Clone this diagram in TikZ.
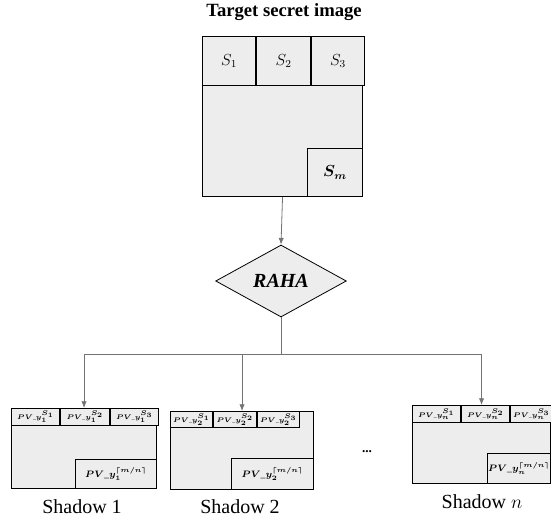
\documentclass[tikz,border=0pt]{standalone}
\usepackage{fontspec}
\setmainfont{Liberation Serif}
\usepackage{bm}
\usepackage{amsmath}
\usetikzlibrary{arrows.meta, positioning, shapes.geometric}

\begin{document}
\begin{tikzpicture}[x=0.75pt, y=-0.75pt,
    frame/.style = {draw, line width=0.8pt, fill=black!7, inner sep=0pt, anchor=north west},
    cell/.style = {draw, line width=0.8pt, fill=black!7, inner sep=0pt, anchor=north west},
    pv/.style = {cell, font=\fontsize{4.4}{5}\selectfont},
    pvlast/.style = {cell, anchor=south east, font=\fontsize{7.5}{9}\selectfont},
    label/.style = {font=\fontsize{15}{18}\selectfont},
    link/.style = {draw=black!55, line width=0.6pt},
    tip/.style = {link, -{Latex[length=5pt, width=4pt]}}]
    \useasboundingbox (0,0) rectangle (551,520);

    % target secret image
    \node[font=\fontsize{14}{17}\selectfont\bfseries] (title) at (284,12) {Target secret image};
    \node[frame, minimum width=120pt, minimum height=120pt] (target) at (202,36) {};
    \node[cell, font=\large, minimum width=40pt, minimum height=36.75pt] (s1) at (target.north west) {$S_1$};
    \node[cell, font=\large, minimum width=40pt, minimum height=36.75pt, right=0pt of s1] (s2) {$S_2$};
    \node[cell, font=\large, minimum width=40pt, minimum height=36.75pt, right=0pt of s2] (s3) {$S_3$};
    \node[cell, font=\large, anchor=south east, minimum width=41.25pt, minimum height=36pt] (sm) at (target.south east) {$\bm{S_{m}}$};

    % sharing step
    \node[diamond, draw, line width=0.6pt, fill=black!7, inner sep=0pt,
          minimum width=98pt, minimum height=54pt, font=\fontsize{15}{18}\selectfont] (raha) at (281,281) {\textbf{\textit{RAHA}}};
    \coordinate (split) at (281,354);

    % shadow 1
    \node[frame, minimum width=108.75pt, minimum height=60pt] (sh1) at (11,408) {};
    \node[pv, minimum width=36.25pt, minimum height=12.75pt] (a1) at (sh1.north west) {$\bm{PV\_y_1^{S_1}}$};
    \node[pv, minimum width=36.25pt, minimum height=12.75pt, right=0pt of a1] (a2) {$\bm{PV\_y_1^{S_2}}$};
    \node[pv, minimum width=36.25pt, minimum height=12.75pt, right=0pt of a2] (a3) {$\bm{PV\_y_1^{S_3}}$};
    \node[pvlast, minimum width=60.75pt, minimum height=21.75pt] (am) at (sh1.south east)
        {$\bm{PV\_y_1^{\lceil m/n\rceil}}$};
    \node[label] (lab1) at (82,507) {Shadow 1};

    % shadow 2
    \node[frame, minimum width=107.25pt, minimum height=58.5pt] (sh2) at (170,411) {};
    \node[pv, minimum width=31.75pt, minimum height=12pt] (b1) at (sh2.north west) {$\bm{PV\_y_2^{S_1}}$};
    \node[pv, minimum width=31.75pt, minimum height=12pt, right=0pt of b1] (b2) {$\bm{PV\_y_2^{S_2}}$};
    \node[pv, minimum width=31.75pt, minimum height=12pt, right=0pt of b2] (b3) {$\bm{PV\_y_2^{S_3}}$};
    \node[pvlast, minimum width=61.5pt, minimum height=23.25pt] (bm) at (sh2.south east)
        {$\bm{PV\_y_2^{\lceil m/n\rceil}}$};
    \node[label] (lab2) at (240,507) {Shadow 2};

    \node (dots) at (367,452) {\textbf{...}};

    % shadow n
    \node[frame, minimum width=103.5pt, minimum height=58.5pt] (shn) at (412,405) {};
    \node[pv, minimum width=36pt, minimum height=12.75pt] (c1) at (shn.north west) {$\bm{PV\_y_n^{S_1}}$};
    \node[pv, minimum width=36pt, minimum height=12.75pt, right=0pt of c1] (c2) {$\bm{PV\_y_n^{S_2}}$};
    \node[pv, minimum width=31.5pt, minimum height=12.75pt, right=0pt of c2] (c3) {$\bm{PV\_y_n^{S_3}}$};
    \node[pvlast, minimum width=47.25pt, minimum height=22.5pt] (cm) at (shn.south east)
        {$\bm{PV\_y_n^{\lceil m/n\rceil}}$};
    \node[label] (labn) at (482,502) {Shadow $n$};

    % connectors
    \path[tip] (target.south) -- (raha.north);
    \path[link] (raha.south) -- (split);
    \path[tip] (split) -| (sh1.north);
    \path[tip] (split) -| (sh2.north);
    \path[tip] (split) -| (shn.north);
\end{tikzpicture}
\end{document}
